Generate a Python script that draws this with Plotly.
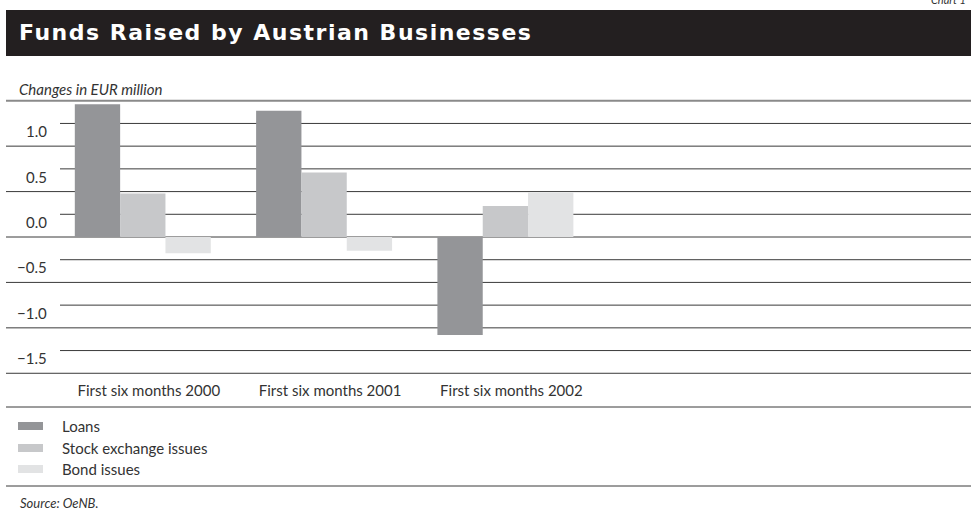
import plotly.graph_objects as go

# ---------------- data ----------------
categories = ["First six months 2000", "First six months 2001", "First six months 2002"]
series_names = ["Loans", "Stock exchange issues", "Bond issues"]
loans = [1.46, 1.39, -1.08]
stock_issues = [0.48, 0.71, 0.34]
bond_issues = [-0.18, -0.15, 0.49]
y_tick_values = [1.0, 0.5, 0.0, -0.5, -1.0, -1.5]
y_tick_labels = ["1.0", "0.5", "0.0", "\u22120.5", "\u22121.0", "\u22121.5"]
major_lines = [1.5, 1.0, 0.5, 0.0, -0.5, -1.0, -1.5]
minor_lines = [1.25, 0.75, 0.25, -0.25, -0.75, -1.25]

# ---------------- styling / layout ----------------
W, H = 971, 516
ML, MR, MT, MB = 60, 0, 98, 140
PW, PH = W - ML - MR, H - MT - MB
colors = ["#949598", "#c7c8ca", "#e2e3e4"]
TXT = "#333333"
FONT = "Lato, 'Open Sans', sans-serif"

def px(xp):
    return (xp - ML) / PW

def py(yp):
    return (H - MB - yp) / PH

x_idx = list(range(len(categories)))
unit = 181.3
x_lo = -(142.8 - ML) / unit
x_hi = x_lo + PW / unit

fig = go.Figure()
for name, vals, col in zip(series_names, [loans, stock_issues, bond_issues], colors):
    fig.add_trace(go.Bar(x=x_idx, y=vals, name=name, marker=dict(color=col, line=dict(width=0)),
                         showlegend=False))

shapes = []
# title bar
shapes.append(dict(type="rect", xref="paper", yref="paper", x0=px(6), x1=px(971), y0=py(56), y1=py(10),
                   fillcolor="#231f20", line=dict(width=0), layer="below"))
# major grid lines (full width)
for v in major_lines:
    top = v == major_lines[0]
    shapes.append(dict(type="line", xref="paper", yref="y", x0=px(6), x1=1, y0=v, y1=v,
                       line=dict(color="#8a8a8a" if top else "#3a3a3a", width=2 if top else 1),
                       layer="below"))
# minor lines (start after the tick labels)
for v in minor_lines:
    shapes.append(dict(type="line", xref="paper", yref="y", x0=0, x1=1, y0=v, y1=v,
                       line=dict(color="#3a3a3a", width=1), layer="below"))
# separator lines
for yp in (407, 486):
    shapes.append(dict(type="line", xref="paper", yref="paper", x0=px(6), x1=1, y0=py(yp), y1=py(yp),
                       line=dict(color="#3a3a3a", width=1), layer="below"))
# legend swatches
leg_y = [426, 448, 469]
for col, ly in zip(colors, leg_y):
    shapes.append(dict(type="rect", xref="paper", yref="paper", x0=px(18), x1=px(43),
                       y0=py(ly + 4), y1=py(ly - 4), fillcolor=col, line=dict(width=0), layer="below"))

annotations = []
annotations.append(dict(text="<i>Chart 1</i>", xref="paper", yref="paper", x=px(968), y=py(-1),
                        xanchor="right", yanchor="middle", showarrow=False,
                        font=dict(family=FONT, size=11, color=TXT)))
annotations.append(dict(text="<span style='letter-spacing:1.5px'><b>Funds Raised by Austrian Businesses</b></span>",
                        xref="paper", yref="paper",
                        x=px(17), y=py(33), xanchor="left", yanchor="middle", showarrow=False,
                        font=dict(family="'DejaVu Sans', sans-serif", size=22, color="white")))
annotations.append(dict(text="<i>Changes in EUR million</i>", xref="paper", yref="paper",
                        x=px(17), y=py(89), xanchor="left", yanchor="middle", showarrow=False,
                        font=dict(family=FONT, size=15, color=TXT)))
for v, t in zip(y_tick_values, y_tick_labels):
    annotations.append(dict(text=t, xref="paper", yref="y", x=px(49), y=v, xanchor="right",
                            yanchor="middle", yshift=15, showarrow=False,
                            font=dict(family=FONT, size=15, color=TXT)))
for name, ly in zip(series_names, leg_y):
    annotations.append(dict(text=name, xref="paper", yref="paper", x=px(60), y=py(ly),
                            xanchor="left", yanchor="middle", showarrow=False,
                            font=dict(family=FONT, size=15, color=TXT)))
annotations.append(dict(text="<i>Source: OeNB.</i>", xref="paper", yref="paper", x=px(18), y=py(503),
                        xanchor="left", yanchor="middle", showarrow=False,
                        font=dict(family=FONT, size=13, color=TXT)))

fig.update_layout(
    width=W, height=H,
    margin=dict(l=ML, r=MR, t=MT, b=MB, pad=0),
    paper_bgcolor="white", plot_bgcolor="rgba(0,0,0,0)",
    barmode="group", bargap=0.25, bargroupgap=0,
    shapes=shapes, annotations=annotations,
    font=dict(family=FONT, size=15, color=TXT),
    xaxis=dict(range=[x_lo, x_hi], tickmode="array", tickvals=x_idx, ticktext=categories,
               showgrid=False, zeroline=False, showline=False, ticks="",
               ticklabelstandoff=4, ticklabelshift=6,
               tickfont=dict(family=FONT, size=15, color=TXT)),
    yaxis=dict(range=[-1.53, 1.53], showgrid=False, zeroline=False, showline=False,
               showticklabels=False, ticks=""),
    showlegend=False,
)

fig.write_html("out.html", config={"displayModeBar": False},
               post_script="document.body.style.margin='0';document.body.style.overflow='hidden';")
